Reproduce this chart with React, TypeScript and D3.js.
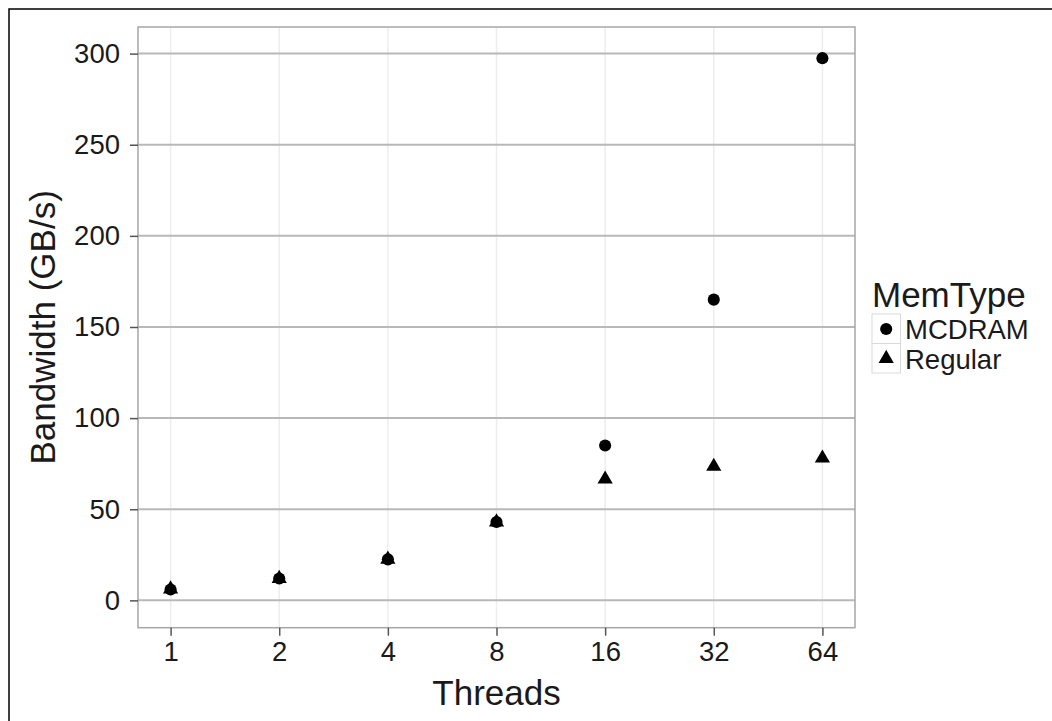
import { useEffect, useRef } from "react";
import * as d3 from "d3";

// values
const threads = [1, 2, 4, 8, 16, 32, 64];
const mcdram = [6, 12, 22.5, 43, 85, 165, 297.5];
const regular = [6.2, 12, 22.5, 43, 66.5, 73.5, 78];
const yTicks = [0, 50, 100, 150, 200, 250, 300];
const memTypes = ["MCDRAM", "Regular"];

const FONT = "Liberation Sans, Arial, Helvetica, sans-serif";

const App = () => {
    const svgRef = useRef<SVGSVGElement>(null);

    useEffect(() => {
        const svg = d3.select(svgRef.current);
        svg.selectAll("*").remove();

        const left = 138, right = 855, top = 27, bottom = 627.7;

        // log2 x scale, ggplot style 5% expansion
        const x = d3.scaleLog().base(2)
            .domain([Math.pow(2, -0.3), Math.pow(2, 6.3)])
            .range([left, right]);
        const y = d3.scaleLinear()
            .domain([-15, 314.6])
            .range([bottom, top]);

        // outer frame (only top and left edges are visible)
        svg.append("rect")
            .attr("x", 9).attr("y", 9)
            .attr("width", 1200).attr("height", 900)
            .attr("fill", "none").attr("stroke", "#000").attr("stroke-width", 1.5);

        // vertical grid
        svg.append("g").selectAll("line")
            .data(threads)
            .join("line")
            .attr("x1", d => x(d)).attr("x2", d => x(d))
            .attr("y1", top).attr("y2", bottom)
            .attr("stroke", "#ededed").attr("stroke-width", 1.5);

        // horizontal grid
        svg.append("g").selectAll("line")
            .data(yTicks)
            .join("line")
            .attr("x1", left).attr("x2", right)
            .attr("y1", d => y(d)).attr("y2", d => y(d))
            .attr("stroke", "#b8b8b8").attr("stroke-width", 2);

        // panel border
        svg.append("rect")
            .attr("x", left).attr("y", top)
            .attr("width", right - left).attr("height", bottom - top)
            .attr("fill", "none").attr("stroke", "#a6a6a6").attr("stroke-width", 1.5);

        // axes
        const yAxis = d3.axisLeft(y).tickValues(yTicks).tickSize(8).tickPadding(10);
        const gy = svg.append("g").attr("transform", `translate(${left},0)`).call(yAxis);
        gy.select(".domain").remove();
        gy.selectAll("line").attr("stroke", "#555").attr("stroke-width", 1.5);
        gy.selectAll("text").attr("font-family", FONT).attr("font-size", 27.5).attr("fill", "#1a1a1a");

        const xAxis = d3.axisBottom(x).tickValues(threads).tickFormat(d3.format("d")).tickSize(8).tickPadding(6);
        const gx = svg.append("g").attr("transform", `translate(0,${bottom})`).call(xAxis);
        gx.select(".domain").remove();
        gx.selectAll("line").attr("stroke", "#555").attr("stroke-width", 1.5);
        gx.selectAll("text").attr("font-family", FONT).attr("font-size", 27.5).attr("fill", "#1a1a1a");

        // axis titles
        svg.append("text")
            .attr("x", (left + right) / 2).attr("y", 705)
            .attr("text-anchor", "middle")
            .attr("font-family", FONT).attr("font-size", 35).attr("fill", "#1a1a1a")
            .text("Threads");
        svg.append("text")
            .attr("transform", `translate(55,${(top + bottom) / 2}) rotate(-90)`)
            .attr("text-anchor", "middle")
            .attr("font-family", FONT).attr("font-size", 35).attr("fill", "#1a1a1a")
            .text("Bandwidth (GB/s)");

        const circle = d3.symbol().type(d3.symbolCircle).size(115);
        const triangle = d3.symbol().type(d3.symbolTriangle).size(100);

        // points
        svg.append("g").selectAll("path")
            .data(threads.map((t, i) => [t, regular[i]]))
            .join("path")
            .attr("transform", d => `translate(${x(d[0])},${y(d[1])})`)
            .attr("d", triangle())
            .attr("fill", "#000");
        svg.append("g").selectAll("path")
            .data(threads.map((t, i) => [t, mcdram[i]]))
            .join("path")
            .attr("transform", d => `translate(${x(d[0])},${y(d[1])})`)
            .attr("d", circle())
            .attr("fill", "#000");

        // legend
        const lg = svg.append("g").attr("transform", "translate(872,314)");
        lg.append("text")
            .attr("x", 0).attr("y", -7)
            .attr("font-family", FONT).attr("font-size", 35).attr("fill", "#1a1a1a")
            .text("MemType");
        const keys = lg.selectAll("g.key")
            .data(memTypes)
            .join("g")
            .attr("class", "key")
            .attr("transform", (_, i) => `translate(0,${i * 29.5})`);
        keys.append("rect")
            .attr("width", 28.5).attr("height", 29.5)
            .attr("fill", "#fff").attr("stroke", "#d9d9d9").attr("stroke-width", 1);
        keys.append("path")
            .attr("transform", "translate(14.2,15)")
            .attr("d", (_, i) => (i === 0 ? circle() : triangle()))
            .attr("fill", "#000");
        keys.append("text")
            .attr("x", 33).attr("y", 25)
            .attr("font-family", FONT).attr("font-size", 27.5).attr("fill", "#1a1a1a")
            .text(d => d);
    }, []);

    return (
        <svg
            ref={svgRef}
            width={1052}
            height={721}
            style={{ position: "absolute", left: 0, top: 0, background: "#fff" }}
        />
    );
};

export default App;
